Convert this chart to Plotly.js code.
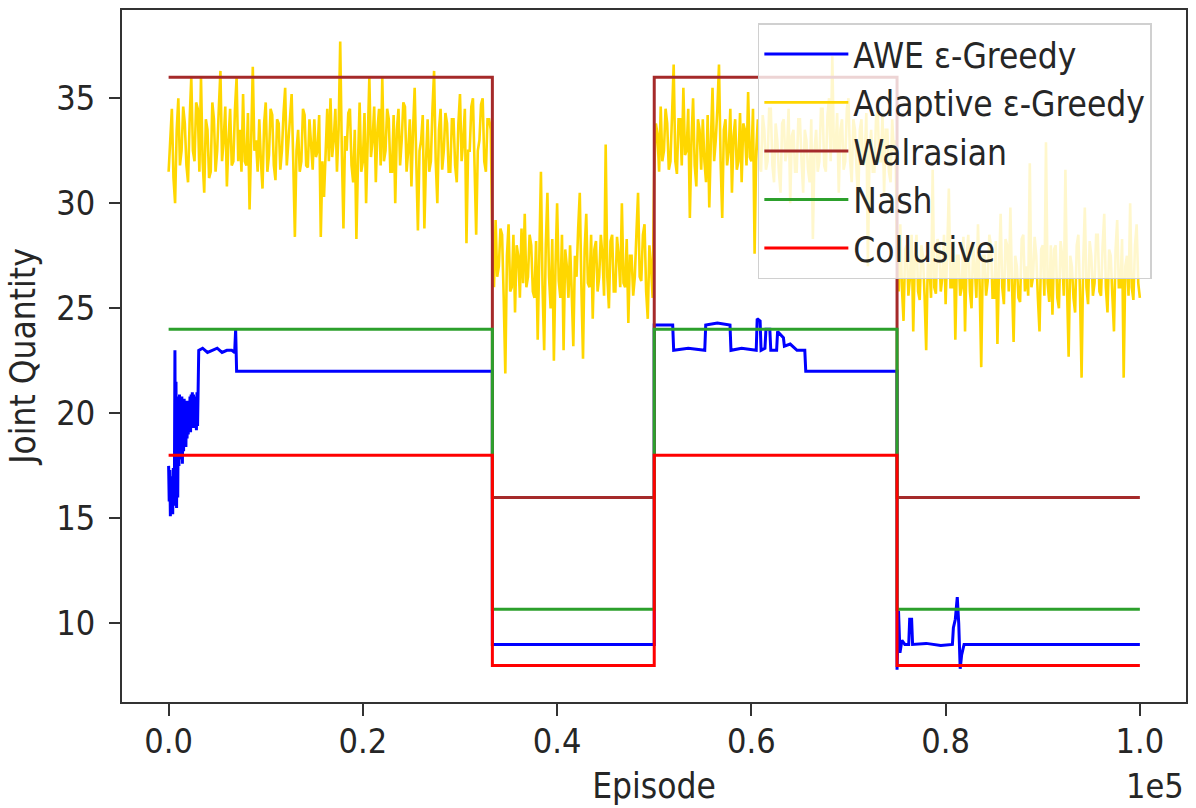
<!DOCTYPE html>
<html>
<head>
<meta charset="utf-8">
<script src="https://cdn.plot.ly/plotly-3.0.1.min.js"></script>
<style>
  html, body { margin: 0; padding: 0; background: #ffffff; }
  #chart { width: 1196px; height: 808px; }
</style>
</head>
<body>
<div id="chart"></div>
<script>
// ---------------- DATA ----------------
// Market regimes (episode boundaries)
const regimeStart = [0, 33333, 50000, 75000];
const regimeEnd   = [33333, 50000, 75000, 100000];
// Benchmark joint quantities per regime
const walrasian = [36, 16, 36, 16];
const nash      = [24, 10.67, 24, 10.67];
const collusive = [18, 8, 18, 8];

// AWE epsilon-Greedy (episode, joint quantity)
const aweEpisodes = [
  0, 60, 120, 180, 240, 300, 360, 420, 480, 540, 600, 650, 700, 760, 820, 880, 940, 1000,
  1060, 1120, 1180, 1240, 1300, 1360, 1420, 1480, 1540, 1600, 1660, 1720, 1780, 1840,
  1900, 1960, 2020, 2080, 2140, 2200, 2260, 2320, 2380, 2440, 2500, 2560, 2620, 2680,
  2740, 2800, 2860, 2920, 2980, 3040, 3100, 3500, 4000, 4500, 5000, 5500, 6000, 6500,
  6800, 6900, 6950, 7000,
  33333,
  33333, 50000,
  50000, 51900, 52000, 53500, 55200, 55300, 56500, 57800, 57900, 59000, 60500, 60600,
  60900, 61000, 61400, 61500, 61900, 62000, 62600, 62700, 63300, 63400, 64000, 64700,
  65500, 65600, 75000,
  75000, 75150, 75300, 75500, 75800, 76200, 76300, 76500, 76600, 78000, 79500, 80700,
  80800, 81000, 81200, 81350, 81500, 81650, 81900, 100000
];
const aweValues = [
  17.5, 15.8, 17.3, 15.1, 17.0, 15.4, 16.9, 15.2, 17.4, 15.6, 17.2, 23.0, 16.2, 21.5, 15.5, 20.8, 16.0, 20.5,
  17.5, 20.9, 17.8, 20.6, 18.0, 20.8, 17.6, 20.4, 18.2, 20.7, 18.6, 20.5, 18.4, 20.6,
  18.8, 20.3, 19.0, 20.6, 19.2, 20.8, 19.1, 20.9, 19.4, 21.0, 19.3, 20.9, 19.4, 20.8,
  19.3, 20.6, 19.2, 21.0, 19.4, 20.9, 23.0, 23.1, 22.9, 23.0, 23.1, 22.9, 23.0, 23.0,
  22.9, 24.0, 23.0, 22.0,
  22.0,
  9.0, 9.0,
  24.2, 24.2, 23.0, 23.1, 23.0, 24.2, 24.3, 24.2, 23.0, 23.1, 23.0, 24.5,
  24.4, 23.0, 23.1, 24.0, 24.0, 23.0, 23.0, 23.9, 23.6, 23.2, 23.3, 23.0,
  23.0, 22.0, 22.0,
  7.8, 10.6, 8.6, 9.2, 9.0, 9.0, 10.2, 10.2, 9.0, 9.05, 8.95, 9.0,
  9.8, 10.2, 11.25, 10.0, 7.84, 8.5, 9.0, 9.0
];

// Adaptive epsilon-Greedy, sampled every 1/600 of the run, per regime
const adaptiveR1 = [
  31.5,33.0, 34.5,31.2, 30.0,33.5, 35.0,31.8, 32.5,34.6, 33.8,31.8, 31.0,34.0, 36.0,32.5, 32.0,34.8, 34.5,31.5,
  36.0,32.0, 30.5,34.0, 33.5,31.2, 31.5,34.8, 34.0,31.5, 32.5,34.5, 36.3,32.0, 33.0,34.6, 30.8,33.0, 34.5,31.8,
  32.0,34.5, 36.0,32.0, 33.5,31.5, 35.2,32.0, 31.8,34.3, 29.7,33.0, 36.5,32.5, 33.0,31.5, 34.0,32.0, 30.7,33.8,
  34.8,31.5, 32.3,34.5, 34.2,31.8, 31.1,34.0, 33.8,31.6, 32.5,34.3, 35.5,31.8, 33.0,34.5, 35.2,32.0, 28.4,32.5,
  33.5,31.5, 32.0,34.5, 34.2,31.8, 31.7,34.0, 33.0,31.6, 34.0,32.2, 32.5,34.2, 28.4,32.0, 30.3,33.0, 34.5,32.0,
  35.0,32.2, 33.0,34.5, 31.5,33.5, 37.7,32.5, 28.8,33.2, 32.5,34.3, 34.5,31.8, 31.0,33.5, 28.3,32.0, 34.8,31.5,
  32.0,34.3, 30.0,33.0, 36.0,32.2, 33.0,34.6, 31.0,33.5, 34.5,31.8, 36.0,32.0, 32.5,34.5, 34.0,31.5, 31.5,34.2,
  30.0,33.5, 34.5,31.8, 33.0,34.8, 34.6,31.5, 32.5,34.0, 30.8,33.5, 35.5,32.0, 28.7,32.5, 33.0,34.2, 28.8,32.0,
  34.0,31.5, 32.0,34.5, 36.3,32.0, 30.0,33.5, 34.5,31.6, 32.5,34.3, 33.8,31.5, 31.5,34.0, 34.0,31.8, 31.0,33.8,
  35.2,32.0, 33.0,34.5, 28.1,32.5, 32.5,34.6, 35.0,31.8, 28.5,32.5, 33.0,34.7, 35.0,32.0, 31.5,34.0, 34.0,33.5
];
const adaptiveR2 = [
  28.0,26.0, 29.2,26.5, 27.0,28.8, 28.5,25.5, 21.9,27.5, 29.0,25.8, 26.0,28.5, 24.8,28.0, 27.5,25.5, 28.8,26.2,
  29.5,26.0, 26.5,28.5, 28.0,25.8, 25.5,28.2, 23.5,27.5, 31.5,26.0, 23.0,28.0, 30.5,26.5, 25.0,28.3, 22.5,27.0,
  30.0,26.3, 25.5,28.5, 23.0,27.8, 27.0,25.5, 28.0,25.8, 23.2,27.5, 26.5,28.8, 30.5,26.0, 22.6,27.8, 29.5,26.2,
  26.0,28.5, 24.5,27.8, 28.2,25.8, 26.5,28.5, 27.5,25.6, 32.8,26.5, 25.0,28.2, 28.5,25.8, 25.8,28.4, 27.5,26.0,
  30.0,26.2, 26.0,28.3, 24.3,27.5, 27.5,25.6, 26.5,28.6, 30.5,26.5, 26.3,28.5, 29.0,25.8, 24.5,28.0, 27.0,25.5
];
const adaptiveR3 = [
  31.5,33.8, 33.3,31.5, 34.6,32.0, 32.5,34.5, 33.8,31.6, 32.0,34.2, 36.6,32.0, 31.4,34.0, 34.0,31.8, 35.5,32.3,
  32.5,34.5, 29.3,33.0, 35.0,31.8, 30.8,34.0, 33.5,31.6, 34.0,32.0, 31.0,34.2, 29.8,33.0, 35.5,32.0, 33.0,34.5,
  36.6,32.0, 29.3,33.5, 34.0,31.8, 32.5,34.5, 30.5,33.2, 34.0,31.6, 32.0,34.3, 31.0,33.8, 33.5,31.8, 35.3,32.2,
  32.0,34.5, 27.6,32.5, 34.0,31.8, 31.5,34.2, 33.5,31.6, 32.0,34.5, 34.5,31.8, 31.0,33.8, 33.0,31.5, 30.5,33.8,
  34.0,32.0, 32.5,34.5, 30.0,33.2, 33.5,31.5, 31.5,34.0, 34.0,32.0, 30.5,33.5, 33.0,31.6, 31.0,34.0, 28.3,32.5,
  33.5,31.5, 32.0,34.5, 34.5,31.8, 31.5,34.2, 35.0,32.0, 37.0,32.5, 32.5,34.3, 30.5,33.5, 34.0,31.6, 32.0,34.5,
  35.0,32.0, 31.0,34.0, 33.5,31.5, 30.0,33.5, 34.0,31.8, 32.0,34.3, 27.0,32.5, 33.5,31.5, 31.5,34.0, 34.5,32.0,
  32.0,34.2, 30.5,33.5, 33.5,31.5, 31.0,34.0, 32.5,33.0
];
const adaptiveR4 = [
  27.5,25.8, 29.0,26.0, 24.4,27.8, 28.0,25.6, 26.5,28.5, 23.9,27.5, 28.5,25.8, 25.4,28.0, 27.5,25.6, 23.0,27.2,
  27.0,25.5, 31.6,26.0, 25.7,28.3, 28.0,25.8, 26.5,28.5, 25.2,27.8, 30.7,26.0, 26.0,28.2, 23.5,27.5, 27.5,25.6,
  26.0,28.4, 23.9,27.5, 28.5,25.8, 25.0,28.0, 27.0,25.5, 29.0,26.2, 22.2,27.5, 27.5,25.6, 26.3,28.5, 28.0,25.5,
  25.5,28.2, 23.3,27.0, 29.5,26.0, 25.2,28.3, 28.0,25.8, 29.8,26.2, 23.4,27.5, 27.0,25.5, 25.3,28.3, 28.5,25.8,
  27.0,25.6, 31.9,26.0, 26.5,28.4, 27.5,25.5, 23.9,27.8, 28.0,25.6, 32.9,26.2, 25.3,28.0, 24.7,27.8, 28.0,25.5,
  25.0,28.2, 27.5,25.6, 31.6,26.0, 22.7,27.5, 27.0,25.5, 24.8,28.0, 28.5,25.8, 21.7,27.2, 29.8,26.0, 25.2,28.2,
  27.5,25.6, 26.2,28.5, 28.5,25.8, 25.6,28.0, 29.5,26.0, 24.8,27.8, 27.5,25.6, 23.9,27.8, 29.2,26.0, 26.0,28.3,
  21.7,27.0, 27.5,25.6, 30.0,26.0, 25.4,28.0, 29.0,26.2, 25.5
];

// Axis ticks
const xTickVals  = [0, 20000, 40000, 60000, 80000, 100000];
const xTickText  = ['0.0', '0.2', '0.4', '0.6', '0.8', '1.0'];
const yTickVals  = [10, 15, 20, 25, 30, 35];

// ---------------- BUILD ----------------
function stepLine(levels) {
  const xs = [], ys = [];
  for (let i = 0; i < levels.length; i++) {
    xs.push(regimeStart[i], regimeEnd[i]);
    ys.push(levels[i], levels[i]);
  }
  return { x: xs, y: ys };
}

const adaptiveValues = adaptiveR1.concat(adaptiveR2, adaptiveR3, adaptiveR4);
const sampleStep = 100000 / (adaptiveValues.length - 1);
const adaptiveEpisodes = adaptiveValues.map((_, i) => i * sampleStep);

const W = stepLine(walrasian), N = stepLine(nash), C = stepLine(collusive);

const FONT = '"DejaVu Sans Condensed", "DejaVu Sans", sans-serif';
const FS_TICK = 34;
const FS_TEXT = 35;
const TXT = '#262626';

const traces = [
  { x: aweEpisodes, y: aweValues, name: 'AWE ε-Greedy', mode: 'lines',
    line: { color: '#0000ff', width: 3 }, legendgroup: 'a' },
  { x: adaptiveEpisodes, y: adaptiveValues, name: 'Adaptive ε-Greedy', mode: 'lines',
    line: { color: '#ffd700', width: 2.6 }, legendgroup: 'b' },
  { x: W.x, y: W.y, name: 'Walrasian', mode: 'lines',
    line: { color: '#a52a2a', width: 3 }, legendgroup: 'c' },
  { x: N.x, y: N.y, name: 'Nash', mode: 'lines',
    line: { color: '#2ca02c', width: 3 }, legendgroup: 'd' },
  { x: C.x, y: C.y, name: 'Collusive', mode: 'lines',
    line: { color: '#ff0000', width: 3 }, legendgroup: 'e' }
];

const layout = {
  width: 1196, height: 808,
  margin: { l: 122, r: 10, t: 10, b: 106 },
  paper_bgcolor: '#ffffff', plot_bgcolor: '#ffffff',
  font: { family: FONT, size: FS_TEXT, color: TXT },
  showlegend: true,
  legend: {
    x: 0.5976, y: 0.981, xanchor: 'left', yanchor: 'top',
    bgcolor: 'rgba(255,255,255,0.8)', bordercolor: '#d0d0d0', borderwidth: 1.5,
    font: { family: FONT, size: FS_TEXT, color: TXT },
    tracegroupgap: 8, itemwidth: 84, traceorder: 'normal'
  },
  xaxis: {
    range: [-4800, 104750],
    tickmode: 'array', tickvals: xTickVals, ticktext: xTickText,
    showgrid: false, zeroline: false,
    showline: true, mirror: true, linecolor: '#333333', linewidth: 2,
    ticks: 'outside', ticklen: 12, tickwidth: 2, tickcolor: '#333333',
    ticklabelstandoff: -4,
    tickfont: { family: FONT, size: FS_TICK, color: TXT },
    title: { text: 'Episode', font: { family: FONT, size: FS_TEXT, color: TXT }, standoff: 14 }
  },
  yaxis: {
    range: [6.26, 39.2],
    tickmode: 'array', tickvals: yTickVals,
    showgrid: false, zeroline: false,
    showline: true, mirror: true, linecolor: '#333333', linewidth: 2,
    ticks: 'outside', ticklen: 11, tickwidth: 2, tickcolor: '#333333',
    ticklabelstandoff: 7,
    tickfont: { family: FONT, size: FS_TICK, color: TXT },
    title: { text: 'Joint Quantity', font: { family: FONT, size: FS_TEXT, color: TXT }, standoff: 10 }
  },
  annotations: [
    { text: '1e5', xref: 'paper', yref: 'paper', x: 1.0, y: -0.1214,
      xanchor: 'right', yanchor: 'middle', showarrow: false,
      font: { family: FONT, size: FS_TICK, color: TXT } }
  ]
};

Plotly.newPlot('chart', traces, layout, { displayModeBar: false, staticPlot: true });
</script>
</body>
</html>
